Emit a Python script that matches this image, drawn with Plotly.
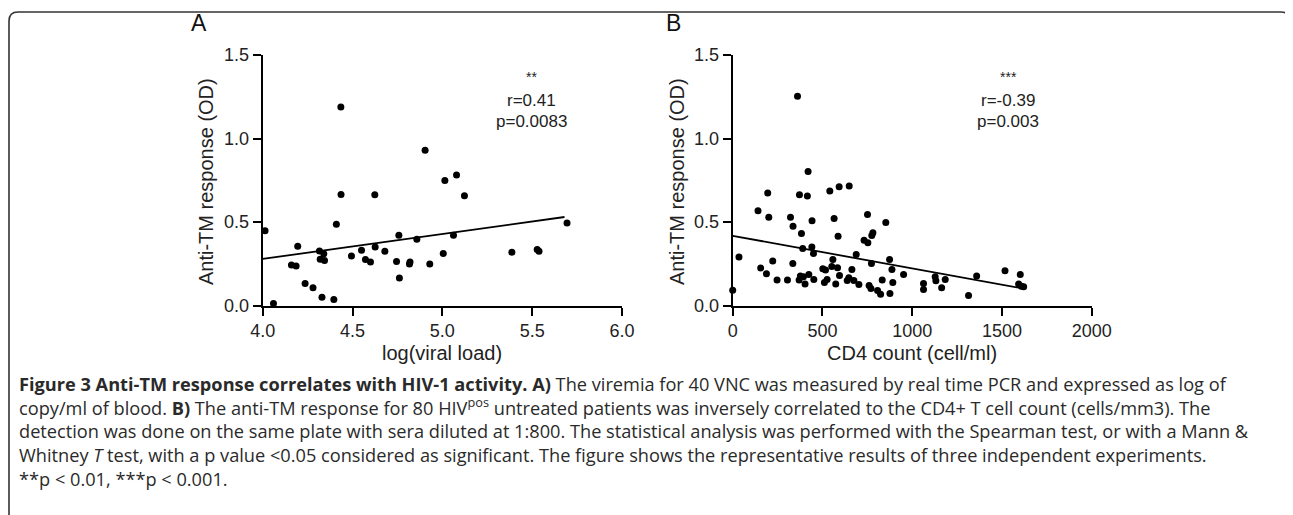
import plotly.graph_objects as go

# ---------------- data ----------------
viral_load_log = [4.013, 4.06, 4.16, 4.186, 4.195, 4.236, 4.28, 4.316, 4.32, 4.33,
                  4.34, 4.344, 4.396, 4.41, 4.435, 4.436, 4.494, 4.55, 4.572, 4.6,
                  4.624, 4.626, 4.68, 4.745, 4.758, 4.761, 4.817, 4.82, 4.858, 4.904,
                  4.93, 5.005, 5.014, 5.062, 5.079, 5.123, 5.387, 5.528, 5.538, 5.694]
anti_tm_a = [0.448, 0.012, 0.243, 0.237, 0.355, 0.131, 0.106, 0.327, 0.277, 0.05,
             0.31, 0.269, 0.036, 0.486, 1.189, 0.665, 0.297, 0.331, 0.275, 0.261,
             0.663, 0.351, 0.325, 0.263, 0.42, 0.165, 0.249, 0.261, 0.396, 0.93,
             0.249, 0.311, 0.749, 0.42, 0.781, 0.657, 0.319, 0.335, 0.325, 0.494]

cd4_count = [0, 35, 141, 156, 188, 195, 201, 223, 247, 305,
             322, 335, 336, 361, 370, 372, 377, 383, 390, 394,
             403, 416, 420, 424, 441, 442, 450, 452, 502, 511,
             517, 526, 541, 552, 558, 565, 574, 584, 587, 593,
             595, 638, 647, 649, 664, 675, 688, 703, 732, 751,
             753, 760, 770, 773, 775, 781, 807, 824, 833, 853,
             874, 876, 887, 892, 952, 1063, 1063, 1128, 1132, 1164,
             1184, 1314, 1359, 1517, 1602, 1593, 1608, 1621]
anti_tm_b = [0.092, 0.291, 0.567, 0.224, 0.19, 0.673, 0.529, 0.267, 0.152, 0.152,
             0.529, 0.251, 0.475, 1.253, 0.152, 0.663, 0.176, 0.431, 0.341, 0.172,
             0.128, 0.655, 0.802, 0.186, 0.351, 0.507, 0.311, 0.156, 0.22, 0.138,
             0.212, 0.156, 0.685, 0.234, 0.275, 0.521, 0.128, 0.226, 0.415, 0.711,
             0.18, 0.15, 0.166, 0.715, 0.216, 0.15, 0.305, 0.126, 0.391, 0.545,
             0.375, 0.12, 0.102, 0.251, 0.419, 0.435, 0.09, 0.068, 0.152, 0.497,
             0.275, 0.072, 0.216, 0.138, 0.186, 0.132, 0.096, 0.172, 0.148, 0.106,
             0.156, 0.06, 0.176, 0.208, 0.186, 0.128, 0.116, 0.112]

fit_a_x = [4.0, 5.68]
fit_a_y = [0.279, 0.53]
fit_b_x = [0, 1617]
fit_b_y = [0.417, 0.102]

x_ticks_a = [4.0, 4.5, 5.0, 5.5, 6.0]
x_ticks_b = [0, 500, 1000, 1500, 2000]
y_ticks = [0.0, 0.5, 1.0, 1.5]

stats_a = ["**", "r=0.41", "p=0.0083"]
stats_b = ["***", "r=-0.39", "p=0.003"]

caption_lines = [
    "<b>Figure 3 Anti-TM response correlates with HIV-1 activity. A)</b> The viremia for 40 VNC was measured by real time PCR and expressed as log of",
    "copy/ml of blood. <b>B)</b> The anti-TM response for 80 HIV<sup>pos</sup> untreated patients was inversely correlated to the CD4+ T cell count (cells/mm3). The",
    "detection was done on the same plate with sera diluted at 1:800. The statistical analysis was performed with the Spearman test, or with a Mann &amp;",
    "Whitney <i>T</i> test, with a p value &lt;0.05 considered as significant. The figure shows the representative results of three independent experiments.",
    "**p &lt; 0.01, ***p &lt; 0.001.",
]

# ---------------- layout helpers ----------------
# the page body has an 8px margin, so the figure starts at (8, 8) in the window
OFF = 8
W, H = 1293 - OFF, 515 - OFF
def px(x):
    return (x - OFF) / W
def py(y):
    return 1 - (y - OFF) / H

FONT = "Liberation Sans, Arial, sans-serif"

fig = go.Figure()
fig.add_trace(go.Scatter(x=viral_load_log, y=anti_tm_a, mode="markers",
                         marker=dict(color="black", size=7), cliponaxis=False,
                         xaxis="x", yaxis="y", showlegend=False))
fig.add_trace(go.Scatter(x=fit_a_x, y=fit_a_y, mode="lines",
                         line=dict(color="black", width=1.8), cliponaxis=False,
                         xaxis="x", yaxis="y", showlegend=False))
fig.add_trace(go.Scatter(x=cd4_count, y=anti_tm_b, mode="markers",
                         marker=dict(color="black", size=7), cliponaxis=False,
                         xaxis="x2", yaxis="y2", showlegend=False))
fig.add_trace(go.Scatter(x=fit_b_x, y=fit_b_y, mode="lines",
                         line=dict(color="black", width=1.8), cliponaxis=False,
                         xaxis="x2", yaxis="y2", showlegend=False))

ydom = [py(305.5), py(55)]
axis_common = dict(showline=True, linecolor="black", linewidth=2, ticks="outside",
                   ticklen=8, tickwidth=2, tickcolor="black", showgrid=False,
                   zeroline=False, automargin=False,
                   tickfont=dict(family=FONT, size=18, color="#222"))

fig.update_layout(
    template="none",
    width=W, height=H, autosize=False,
    margin=dict(l=0, r=0, t=0, b=0, pad=0, autoexpand=False),
    paper_bgcolor="white", plot_bgcolor="white",
    xaxis=dict(domain=[px(262.7), px(622)], range=[4, 6], tickvals=x_ticks_a,
               ticktext=[f"{v:.1f}" for v in x_ticks_a], anchor="y", **axis_common),
    yaxis=dict(domain=ydom, range=[0, 1.5], tickvals=y_ticks,
               ticktext=[f"{v:.1f}" for v in y_ticks], anchor="x", **axis_common),
    xaxis2=dict(domain=[px(732.7), px(1091.7)], range=[0, 2000], tickvals=x_ticks_b,
                ticktext=[str(v) for v in x_ticks_b], anchor="y2", **axis_common),
    yaxis2=dict(domain=ydom, range=[0, 1.5], tickvals=y_ticks,
                ticktext=[f"{v:.1f}" for v in y_ticks], anchor="x2", **axis_common),
)

ann = []
# panel letters
ann.append(dict(text="A", x=px(199), y=py(23), font=dict(family=FONT, size=23, color="#111")))
ann.append(dict(text="B", x=px(673), y=py(23), font=dict(family=FONT, size=23, color="#111")))
# axis titles
ann.append(dict(text="Anti-TM response (OD)", x=px(206), y=py(182), textangle=-90,
                font=dict(family=FONT, size=20, color="#222")))
ann.append(dict(text="Anti-TM response (OD)", x=px(677), y=py(182), textangle=-90,
                font=dict(family=FONT, size=20, color="#222")))
ann.append(dict(text="log(viral load)", x=px(442), y=py(353),
                font=dict(family=FONT, size=20, color="#222")))
ann.append(dict(text="CD4 count (cell/ml)", x=px(912), y=py(353),
                font=dict(family=FONT, size=20, color="#222")))
# statistics
for stats, cx in ((stats_a, 531.5), (stats_b, 1008)):
    ann.append(dict(text=stats[0], x=px(cx), y=py(77), font=dict(family=FONT, size=14, color="#222")))
    ann.append(dict(text=stats[1], x=px(cx), y=py(100), font=dict(family=FONT, size=17, color="#222")))
    ann.append(dict(text=stats[2], x=px(cx), y=py(121), font=dict(family=FONT, size=17, color="#222")))
# caption (one block, left aligned)
ann.append(dict(text="<br>".join(caption_lines), x=px(17), y=py(431), xanchor="left",
                align="left",
                font=dict(family="Open Sans, sans-serif", size=18.2, color="#2a2a2a")))

for a in ann:
    a.setdefault("xanchor", "center")
    a.update(xref="paper", yref="paper", yanchor="middle", showarrow=False)
fig.update_layout(annotations=ann)

# rounded border frame
r = 9
x0, x1, y0, yb = 9, 1290, 12, 540
path = (f"M {px(x0)},{py(yb)} L {px(x0)},{py(y0 + r)} "
        f"Q {px(x0)},{py(y0)} {px(x0 + r)},{py(y0)} "
        f"L {px(x1 - r)},{py(y0)} Q {px(x1)},{py(y0)} {px(x1)},{py(y0 + r)} "
        f"L {px(x1)},{py(yb)}")
fig.add_shape(type="path", path=path, xref="paper", yref="paper",
              line=dict(color="#333", width=1.6))

fig.write_html("out.html")
